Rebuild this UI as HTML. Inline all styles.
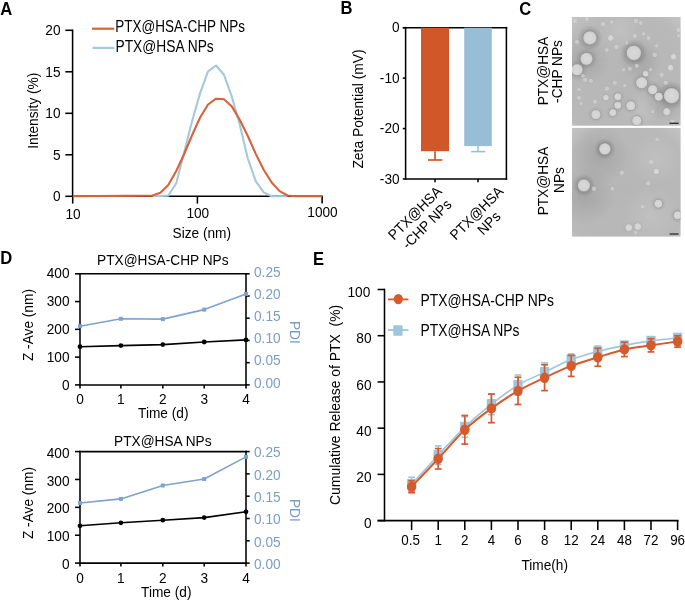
<!DOCTYPE html>
<html><head><meta charset="utf-8"><style>
html,body{margin:0;padding:0;background:#fff;}
svg{display:block;font-family:"Liberation Sans", sans-serif;filter:blur(0.35px);}
</style></head><body>
<svg width="685" height="602" viewBox="0 0 685 602">
<rect width="685" height="602" fill="#fff"/>
<text x="0.00" y="0.00" font-size="16.6" text-anchor="start" fill="#000" font-weight="bold" transform="translate(0.30,14.60) scale(1,1.09)" >A</text>
<text x="0.00" y="0.00" font-size="16.6" text-anchor="start" fill="#000" font-weight="bold" transform="translate(340.60,13.50) scale(1,1.09)" >B</text>
<text x="0.00" y="0.00" font-size="16.6" text-anchor="start" fill="#000" font-weight="bold" transform="translate(519.30,14.80) scale(1,1.09)" >C</text>
<text x="0.00" y="0.00" font-size="16.6" text-anchor="start" fill="#000" font-weight="bold" transform="translate(0.20,264.40) scale(1,1.09)" >D</text>
<text x="0.00" y="0.00" font-size="16.6" text-anchor="start" fill="#000" font-weight="bold" transform="translate(312.90,264.60) scale(1,1.09)" >E</text>
<line x1="72.60" y1="29.50" x2="72.60" y2="197.10" stroke="#000" stroke-width="1.55" stroke-linecap="butt"/>
<line x1="71.80" y1="196.30" x2="322.80" y2="196.30" stroke="#000" stroke-width="1.55" stroke-linecap="butt"/>
<line x1="65.30" y1="196.30" x2="72.60" y2="196.30" stroke="#000" stroke-width="1.55" stroke-linecap="butt"/>
<text x="0.00" y="0.00" font-size="13.7" text-anchor="end" fill="#000" font-weight="normal" transform="translate(60.50,201.10) scale(1,1.09)" >0</text>
<line x1="65.30" y1="154.80" x2="72.60" y2="154.80" stroke="#000" stroke-width="1.55" stroke-linecap="butt"/>
<text x="0.00" y="0.00" font-size="13.7" text-anchor="end" fill="#000" font-weight="normal" transform="translate(60.50,159.60) scale(1,1.09)" >5</text>
<line x1="65.30" y1="113.30" x2="72.60" y2="113.30" stroke="#000" stroke-width="1.55" stroke-linecap="butt"/>
<text x="0.00" y="0.00" font-size="13.7" text-anchor="end" fill="#000" font-weight="normal" transform="translate(60.50,118.10) scale(1,1.09)" >10</text>
<line x1="65.30" y1="71.80" x2="72.60" y2="71.80" stroke="#000" stroke-width="1.55" stroke-linecap="butt"/>
<text x="0.00" y="0.00" font-size="13.7" text-anchor="end" fill="#000" font-weight="normal" transform="translate(60.50,76.60) scale(1,1.09)" >15</text>
<line x1="65.30" y1="30.30" x2="72.60" y2="30.30" stroke="#000" stroke-width="1.55" stroke-linecap="butt"/>
<text x="0.00" y="0.00" font-size="13.7" text-anchor="end" fill="#000" font-weight="normal" transform="translate(60.50,35.10) scale(1,1.09)" >20</text>
<line x1="72.70" y1="196.30" x2="72.70" y2="203.60" stroke="#000" stroke-width="1.55" stroke-linecap="butt"/>
<text x="0.00" y="0.00" font-size="13.7" text-anchor="middle" fill="#000" font-weight="normal" transform="translate(73.10,219.40) scale(1,1.09)" >10</text>
<line x1="197.40" y1="196.30" x2="197.40" y2="203.60" stroke="#000" stroke-width="1.55" stroke-linecap="butt"/>
<text x="0.00" y="0.00" font-size="13.7" text-anchor="middle" fill="#000" font-weight="normal" transform="translate(197.80,217.70) scale(1,1.09)" >100</text>
<line x1="322.10" y1="196.30" x2="322.10" y2="203.60" stroke="#000" stroke-width="1.55" stroke-linecap="butt"/>
<text x="0.00" y="0.00" font-size="13.7" text-anchor="middle" fill="#000" font-weight="normal" transform="translate(322.50,216.50) scale(1,1.09)" >1000</text>
<text x="0.00" y="0.00" font-size="13.7" text-anchor="middle" fill="#000" font-weight="normal" transform="translate(201.80,237.70) scale(1,1.09)" >Size (nm)</text>
<text x="0.00" y="0.00" font-size="13.7" text-anchor="middle" fill="#000" font-weight="normal" transform="translate(37.9,110.7) rotate(-90) scale(1,1.05)" >Intensity (%)</text>
<polyline points="152.40,196.30 168.30,195.60 176.25,183.20 184.20,152.00 192.15,121.00 200.10,93.10 208.05,71.40 216.00,65.50 223.95,74.70 231.90,96.90 239.85,125.00 247.80,158.50 255.75,181.10 263.70,192.40 271.65,196.30 287.55,196.30" fill="none" stroke="#A6C8DC" stroke-width="2.1" stroke-linejoin="round"/>
<polyline points="72.70,196.30 152.40,195.60 160.35,192.80 168.30,184.90 176.25,171.00 184.20,154.00 192.15,135.00 200.10,117.50 208.05,104.50 216.00,98.70 223.95,99.30 231.90,106.60 239.85,120.00 247.80,136.00 255.75,153.90 263.70,169.80 271.65,182.50 279.60,191.10 287.55,195.50 295.50,196.30 322.10,196.30" fill="none" stroke="#D8623A" stroke-width="2.1" stroke-linejoin="round"/>
<line x1="92.00" y1="28.70" x2="114.20" y2="28.70" stroke="#D8623A" stroke-width="2.2" stroke-linecap="butt"/>
<line x1="92.50" y1="47.90" x2="114.30" y2="47.90" stroke="#A6C8DC" stroke-width="2.2" stroke-linecap="butt"/>
<text x="0.00" y="0.00" font-size="13.5" text-anchor="start" fill="#000" font-weight="normal" transform="translate(115.30,32.20) scale(1,1.16)" >PTX@HSA-CHP NPs</text>
<text x="0.00" y="0.00" font-size="13.8" text-anchor="start" fill="#000" font-weight="normal" transform="translate(115.50,51.70) scale(1,1.14)" >PTX@HSA NPs</text>
<line x1="405.60" y1="26.90" x2="405.60" y2="179.80" stroke="#000" stroke-width="1.55" stroke-linecap="butt"/>
<line x1="402.80" y1="27.70" x2="507.20" y2="27.70" stroke="#000" stroke-width="1.55" stroke-linecap="butt"/>
<line x1="506.40" y1="26.90" x2="506.40" y2="179.80" stroke="#000" stroke-width="1.55" stroke-linecap="butt"/>
<line x1="405.60" y1="179.00" x2="507.20" y2="179.00" stroke="#000" stroke-width="1.55" stroke-linecap="butt"/>
<line x1="402.80" y1="27.70" x2="405.60" y2="27.70" stroke="#000" stroke-width="1.55" stroke-linecap="butt"/>
<text x="0.00" y="0.00" font-size="13.7" text-anchor="end" fill="#000" font-weight="normal" transform="translate(399.60,32.40) scale(1,1.09)" >0</text>
<line x1="402.80" y1="78.13" x2="405.60" y2="78.13" stroke="#000" stroke-width="1.55" stroke-linecap="butt"/>
<text x="0.00" y="0.00" font-size="13.7" text-anchor="end" fill="#000" font-weight="normal" transform="translate(399.60,82.83) scale(1,1.09)" >-10</text>
<line x1="402.80" y1="128.56" x2="405.60" y2="128.56" stroke="#000" stroke-width="1.55" stroke-linecap="butt"/>
<text x="0.00" y="0.00" font-size="13.7" text-anchor="end" fill="#000" font-weight="normal" transform="translate(399.60,133.26) scale(1,1.09)" >-20</text>
<line x1="402.80" y1="178.99" x2="405.60" y2="178.99" stroke="#000" stroke-width="1.55" stroke-linecap="butt"/>
<text x="0.00" y="0.00" font-size="13.7" text-anchor="end" fill="#000" font-weight="normal" transform="translate(399.60,183.69) scale(1,1.09)" >-30</text>
<rect x="421" y="27.7" width="28" height="123.50" fill="#D15628"/>
<rect x="464.2" y="27.7" width="27.6" height="118.40" fill="#97BED5"/>
<line x1="435.00" y1="151.20" x2="435.00" y2="160.00" stroke="#D15628" stroke-width="1.7" stroke-linecap="butt"/>
<line x1="428.00" y1="160.00" x2="442.30" y2="160.00" stroke="#D15628" stroke-width="1.7" stroke-linecap="butt"/>
<line x1="478.00" y1="146.10" x2="478.00" y2="151.60" stroke="#97BED5" stroke-width="1.5" stroke-linecap="butt"/>
<line x1="471.20" y1="151.60" x2="485.40" y2="151.60" stroke="#97BED5" stroke-width="1.5" stroke-linecap="butt"/>
<line x1="435.00" y1="179.00" x2="435.00" y2="182.20" stroke="#000" stroke-width="1.55" stroke-linecap="butt"/>
<line x1="478.00" y1="179.00" x2="478.00" y2="182.20" stroke="#000" stroke-width="1.55" stroke-linecap="butt"/>
<text x="0.00" y="0.00" font-size="13.85" text-anchor="middle" fill="#000" font-weight="normal" transform="translate(363.3,109) rotate(-90) scale(1,1.05)" >Zeta Potential (mV)</text>
<text x="0.00" y="0.00" font-size="13.7" text-anchor="end" fill="#000" font-weight="normal" transform="translate(442.6,192.3) rotate(-45) scale(1,1.05)" >PTX@HSA</text>
<text x="0.00" y="0.00" font-size="13.7" text-anchor="end" fill="#000" font-weight="normal" transform="translate(452.5,205.5) rotate(-45) scale(1,1.05)" >-CHP NPs</text>
<text x="0.00" y="0.00" font-size="13.7" text-anchor="end" fill="#000" font-weight="normal" transform="translate(504.3,192.3) rotate(-45) scale(1,1.05)" >PTX@HSA</text>
<text x="0.00" y="0.00" font-size="13.7" text-anchor="end" fill="#000" font-weight="normal" transform="translate(501.5,217.5) rotate(-45) scale(1,1.05)" >NPs</text>
<text x="0.00" y="0.00" font-size="13.7" text-anchor="middle" fill="#000" font-weight="normal" transform="translate(547.6,71) rotate(-90) scale(1,1.05)" >PTX@HSA</text>
<text x="0.00" y="0.00" font-size="13.7" text-anchor="middle" fill="#000" font-weight="normal" transform="translate(561.5,71.5) rotate(-90) scale(1,1.05)" >-CHP NPs</text>
<text x="0.00" y="0.00" font-size="13.7" text-anchor="middle" fill="#000" font-weight="normal" transform="translate(547.8,181) rotate(-90) scale(1,1.05)" >PTX@HSA</text>
<text x="0.00" y="0.00" font-size="13.7" text-anchor="middle" fill="#000" font-weight="normal" transform="translate(564,180) rotate(-90) scale(1,1.05)" >NPs</text>
<defs><radialGradient id="halo"><stop offset="0.5" stop-color="#000" stop-opacity="0.4"/><stop offset="0.65" stop-color="#000" stop-opacity="0.22"/><stop offset="1" stop-color="#000" stop-opacity="0"/></radialGradient><radialGradient id="p"><stop offset="0" stop-color="#d9d9d9"/><stop offset="0.75" stop-color="#d3d3d3"/><stop offset="0.92" stop-color="#c9c9c9"/><stop offset="1" stop-color="#b5b5b5"/></radialGradient><radialGradient id="bg1" cx="0.5" cy="0.55" r="0.75"><stop offset="0" stop-color="#b6b6b6"/><stop offset="0.8" stop-color="#b9b9b9"/><stop offset="1" stop-color="#c4c4c4"/></radialGradient><radialGradient id="blot"><stop offset="0" stop-color="#000" stop-opacity="0.10"/><stop offset="1" stop-color="#000" stop-opacity="0"/></radialGradient><radialGradient id="lite"><stop offset="0" stop-color="#fff" stop-opacity="0.12"/><stop offset="1" stop-color="#fff" stop-opacity="0"/></radialGradient><filter id="soft" x="-5%" y="-5%" width="110%" height="110%"><feGaussianBlur stdDeviation="0.55"/></filter><clipPath id="c1"><rect x="572" y="17" width="108.6" height="108.7"/></clipPath><clipPath id="c2"><rect x="572" y="127.9" width="108.6" height="108.7"/></clipPath></defs>
<rect x="572" y="17" width="108.6" height="108.7" fill="url(#bg1)"/>
<rect x="572" y="127.9" width="108.6" height="108.7" fill="url(#bg1)"/>
<g clip-path="url(#c1)"><g filter="url(#soft)">
<circle cx="585" cy="60" r="25" fill="url(#blot)"/>
<circle cx="640" cy="60" r="22" fill="url(#blot)"/>
<circle cx="665" cy="100" r="22" fill="url(#blot)"/>
<circle cx="640" cy="110" r="20" fill="url(#lite)"/>
<circle cx="620" cy="30" r="20" fill="url(#lite)"/>
<circle cx="589.9" cy="37.9" r="12.60" fill="url(#halo)" opacity="0.50"/>
<circle cx="633.8" cy="52.9" r="13.68" fill="url(#halo)" opacity="0.50"/>
<circle cx="586.5" cy="58.8" r="11.52" fill="url(#halo)" opacity="0.30"/>
<circle cx="577" cy="69.8" r="10.80" fill="url(#halo)" opacity="0.30"/>
<circle cx="641.7" cy="82.8" r="10.80" fill="url(#halo)" opacity="0.25"/>
<circle cx="652.7" cy="89.7" r="9.00" fill="url(#halo)" opacity="0.25"/>
<circle cx="658.7" cy="96.7" r="7.92" fill="url(#halo)" opacity="0.15"/>
<circle cx="671.6" cy="95.7" r="14.40" fill="url(#halo)" opacity="0.50"/>
<circle cx="617.8" cy="96.7" r="7.20" fill="url(#halo)" opacity="0.15"/>
<circle cx="617.8" cy="105.3" r="7.20" fill="url(#halo)" opacity="0.15"/>
<circle cx="630.8" cy="105.7" r="9.00" fill="url(#halo)" opacity="0.20"/>
<circle cx="612.8" cy="112.7" r="7.20" fill="url(#halo)" opacity="0.15"/>
<circle cx="595.9" cy="114.6" r="9.00" fill="url(#halo)" opacity="0.15"/>
<circle cx="636.8" cy="120.6" r="9.00" fill="url(#halo)" opacity="0.15"/>
<circle cx="666.7" cy="111.7" r="6.48" fill="url(#halo)" opacity="0.10"/>
<circle cx="605.9" cy="97.7" r="5.40" fill="url(#halo)" opacity="0.10"/>
<circle cx="645.7" cy="73.8" r="5.40" fill="url(#halo)" opacity="0.10"/>
<circle cx="589.9" cy="37.9" r="7" fill="url(#p)" stroke="#888" stroke-opacity="0.45" stroke-width="0.8"/>
<circle cx="633.8" cy="52.9" r="7.6" fill="url(#p)" stroke="#888" stroke-opacity="0.45" stroke-width="0.8"/>
<circle cx="586.5" cy="58.8" r="6.4" fill="url(#p)" stroke="#888" stroke-opacity="0.45" stroke-width="0.8"/>
<circle cx="577" cy="69.8" r="6" fill="url(#p)" stroke="#888" stroke-opacity="0.45" stroke-width="0.8"/>
<circle cx="641.7" cy="82.8" r="6" fill="url(#p)" stroke="#888" stroke-opacity="0.45" stroke-width="0.8"/>
<circle cx="652.7" cy="89.7" r="5" fill="url(#p)" stroke="#888" stroke-opacity="0.45" stroke-width="0.8"/>
<circle cx="658.7" cy="96.7" r="4.4" fill="url(#p)" stroke="#888" stroke-opacity="0.45" stroke-width="0.8"/>
<circle cx="671.6" cy="95.7" r="8" fill="url(#p)" stroke="#888" stroke-opacity="0.45" stroke-width="0.8"/>
<circle cx="617.8" cy="96.7" r="4" fill="url(#p)" stroke="#888" stroke-opacity="0.45" stroke-width="0.8"/>
<circle cx="617.8" cy="105.3" r="4" fill="url(#p)" stroke="#888" stroke-opacity="0.45" stroke-width="0.8"/>
<circle cx="630.8" cy="105.7" r="5" fill="url(#p)" stroke="#888" stroke-opacity="0.45" stroke-width="0.8"/>
<circle cx="612.8" cy="112.7" r="4" fill="url(#p)" stroke="#888" stroke-opacity="0.45" stroke-width="0.8"/>
<circle cx="595.9" cy="114.6" r="5" fill="url(#p)" stroke="#888" stroke-opacity="0.45" stroke-width="0.8"/>
<circle cx="636.8" cy="120.6" r="5" fill="url(#p)" stroke="#888" stroke-opacity="0.45" stroke-width="0.8"/>
<circle cx="666.7" cy="111.7" r="3.6" fill="url(#p)"/>
<circle cx="605.9" cy="97.7" r="3" fill="url(#p)"/>
<circle cx="645.7" cy="73.8" r="3" fill="url(#p)"/>
<circle cx="602.9" cy="24" r="2.4" fill="url(#p)" opacity="0.65"/>
<circle cx="635.8" cy="21" r="2.4" fill="url(#p)" opacity="0.65"/>
<circle cx="575" cy="21" r="2.4" fill="url(#p)" opacity="0.65"/>
<circle cx="610.8" cy="37.9" r="3" fill="url(#p)"/>
<circle cx="616.4" cy="46.9" r="2.4" fill="url(#p)" opacity="0.65"/>
<circle cx="606.9" cy="49.9" r="2" fill="url(#p)" opacity="0.65"/>
<circle cx="654.7" cy="54.8" r="2.4" fill="url(#p)" opacity="0.65"/>
<circle cx="673.6" cy="56.8" r="3" fill="url(#p)"/>
<circle cx="670.6" cy="67.8" r="3" fill="url(#p)"/>
<circle cx="661.7" cy="74.8" r="2.4" fill="url(#p)" opacity="0.65"/>
<circle cx="665.7" cy="82.8" r="2.4" fill="url(#p)" opacity="0.65"/>
<circle cx="678.6" cy="29.9" r="2.4" fill="url(#p)" opacity="0.65"/>
<circle cx="585" cy="79.8" r="2.4" fill="url(#p)" opacity="0.65"/>
<circle cx="606.9" cy="88.7" r="2.4" fill="url(#p)" opacity="0.65"/>
<circle cx="583" cy="75.8" r="2" fill="url(#p)" opacity="0.65"/>
<circle cx="586.9" cy="19.0" r="2.2" fill="url(#p)" opacity="0.65"/>
<circle cx="611.8" cy="22.0" r="1.8" fill="url(#p)" opacity="0.65"/>
<circle cx="640.7" cy="23.0" r="2.2" fill="url(#p)" opacity="0.65"/>
<circle cx="678.6" cy="35.9" r="1.8" fill="url(#p)" opacity="0.65"/>
<circle cx="577.0" cy="41.9" r="2.2" fill="url(#p)" opacity="0.65"/>
<circle cx="626.8" cy="42.9" r="1.8" fill="url(#p)" opacity="0.65"/>
<circle cx="634.8" cy="35.9" r="2.2" fill="url(#p)" opacity="0.65"/>
<circle cx="643.7" cy="33.9" r="1.8" fill="url(#p)" opacity="0.65"/>
<circle cx="648.7" cy="37.9" r="2.2" fill="url(#p)" opacity="0.65"/>
<circle cx="656.7" cy="45.9" r="1.8" fill="url(#p)" opacity="0.65"/>
<circle cx="590.9" cy="80.8" r="2.2" fill="url(#p)" opacity="0.65"/>
<circle cx="579.0" cy="89.7" r="1.8" fill="url(#p)" opacity="0.65"/>
<circle cx="579.0" cy="97.7" r="2.2" fill="url(#p)" opacity="0.65"/>
<circle cx="623.8" cy="69.8" r="1.8" fill="url(#p)" opacity="0.65"/>
<circle cx="629.8" cy="68.8" r="2.2" fill="url(#p)" opacity="0.65"/>
<circle cx="624.8" cy="85.7" r="1.8" fill="url(#p)" opacity="0.65"/>
<circle cx="636.8" cy="65.8" r="2.2" fill="url(#p)" opacity="0.65"/>
<circle cx="650.7" cy="69.8" r="1.8" fill="url(#p)" opacity="0.65"/>
<circle cx="672.6" cy="121.6" r="2.2" fill="url(#p)" opacity="0.65"/>
<circle cx="652.7" cy="111.7" r="1.8" fill="url(#p)" opacity="0.65"/>
<circle cx="614.8" cy="82.8" r="2.2" fill="url(#p)" opacity="0.65"/>
<circle cx="580.9" cy="103.7" r="1.8" fill="url(#p)" opacity="0.65"/>
<circle cx="594.9" cy="101.7" r="2.2" fill="url(#p)" opacity="0.65"/>
</g></g>
<g clip-path="url(#c2)"><g filter="url(#soft)">
<circle cx="600" cy="155" r="30" fill="url(#blot)"/>
<circle cx="585" cy="195" r="30" fill="url(#blot)"/>
<circle cx="650" cy="215" r="30" fill="url(#lite)"/>
<circle cx="655" cy="160" r="25" fill="url(#lite)"/>
<circle cx="604.9" cy="148.9" r="10.80" fill="url(#halo)" opacity="0.50"/>
<circle cx="583.9" cy="185.4" r="11.52" fill="url(#halo)" opacity="0.50"/>
<circle cx="658.3" cy="203.7" r="7.92" fill="url(#halo)" opacity="0.25"/>
<circle cx="677.6" cy="215.3" r="7.92" fill="url(#halo)" opacity="0.25"/>
<circle cx="628.8" cy="227.6" r="6.48" fill="url(#halo)" opacity="0.10"/>
<circle cx="637.8" cy="226.6" r="6.48" fill="url(#halo)" opacity="0.10"/>
<circle cx="651.1" cy="161.9" r="5.04" fill="url(#halo)" opacity="0.05"/>
<circle cx="656.3" cy="171.4" r="5.40" fill="url(#halo)" opacity="0.05"/>
<circle cx="604.9" cy="148.9" r="6" fill="url(#p)" stroke="#888" stroke-opacity="0.45" stroke-width="0.8"/>
<circle cx="583.9" cy="185.4" r="6.4" fill="url(#p)" stroke="#888" stroke-opacity="0.45" stroke-width="0.8"/>
<circle cx="658.3" cy="203.7" r="4.4" fill="url(#p)" stroke="#888" stroke-opacity="0.45" stroke-width="0.8"/>
<circle cx="677.6" cy="215.3" r="4.4" fill="url(#p)" stroke="#888" stroke-opacity="0.45" stroke-width="0.8"/>
<circle cx="628.8" cy="227.6" r="3.6" fill="url(#p)"/>
<circle cx="637.8" cy="226.6" r="3.6" fill="url(#p)"/>
<circle cx="651.1" cy="161.9" r="2.8" fill="url(#p)" opacity="0.65"/>
<circle cx="656.3" cy="171.4" r="3" fill="url(#p)"/>
<circle cx="648.3" cy="183.4" r="2.4" fill="url(#p)" opacity="0.65"/>
<circle cx="621.8" cy="172.8" r="2.4" fill="url(#p)" opacity="0.65"/>
<circle cx="593.9" cy="188.8" r="2.4" fill="url(#p)" opacity="0.65"/>
<circle cx="612.4" cy="188.8" r="2" fill="url(#p)" opacity="0.65"/>
<circle cx="657.1" cy="139.5" r="2" fill="url(#p)" opacity="0.65"/>
<circle cx="642.7" cy="206.7" r="2" fill="url(#p)" opacity="0.65"/>
<circle cx="635.8" cy="232.6" r="2" fill="url(#p)" opacity="0.65"/>
</g></g>
<line x1="669.60" y1="123.30" x2="678.60" y2="123.30" stroke="#222" stroke-width="1.3" stroke-linecap="butt"/>
<line x1="669.60" y1="234.00" x2="678.60" y2="234.00" stroke="#222" stroke-width="1.2" stroke-linecap="butt"/>
<line x1="80.00" y1="273.00" x2="80.00" y2="385.70" stroke="#000" stroke-width="1.55" stroke-linecap="butt"/>
<line x1="246.00" y1="273.00" x2="246.00" y2="385.70" stroke="#000" stroke-width="1.55" stroke-linecap="butt"/>
<line x1="79.20" y1="273.80" x2="246.80" y2="273.80" stroke="#000" stroke-width="1.55" stroke-linecap="butt"/>
<line x1="79.20" y1="384.90" x2="246.80" y2="384.90" stroke="#000" stroke-width="1.55" stroke-linecap="butt"/>
<line x1="75.00" y1="384.90" x2="80.00" y2="384.90" stroke="#000" stroke-width="1.55" stroke-linecap="butt"/>
<text x="0.00" y="0.00" font-size="13.7" text-anchor="end" fill="#000" font-weight="normal" transform="translate(69.50,389.50) scale(1,1.09)" >0</text>
<line x1="75.00" y1="357.12" x2="80.00" y2="357.12" stroke="#000" stroke-width="1.55" stroke-linecap="butt"/>
<text x="0.00" y="0.00" font-size="13.7" text-anchor="end" fill="#000" font-weight="normal" transform="translate(69.50,361.73) scale(1,1.09)" >100</text>
<line x1="75.00" y1="329.35" x2="80.00" y2="329.35" stroke="#000" stroke-width="1.55" stroke-linecap="butt"/>
<text x="0.00" y="0.00" font-size="13.7" text-anchor="end" fill="#000" font-weight="normal" transform="translate(69.50,333.95) scale(1,1.09)" >200</text>
<line x1="75.00" y1="301.57" x2="80.00" y2="301.57" stroke="#000" stroke-width="1.55" stroke-linecap="butt"/>
<text x="0.00" y="0.00" font-size="13.7" text-anchor="end" fill="#000" font-weight="normal" transform="translate(69.50,306.18) scale(1,1.09)" >300</text>
<line x1="75.00" y1="273.80" x2="80.00" y2="273.80" stroke="#000" stroke-width="1.55" stroke-linecap="butt"/>
<text x="0.00" y="0.00" font-size="13.7" text-anchor="end" fill="#000" font-weight="normal" transform="translate(69.50,278.40) scale(1,1.09)" >400</text>
<line x1="246.00" y1="384.90" x2="249.70" y2="384.90" stroke="#000" stroke-width="1.55" stroke-linecap="butt"/>
<text x="0.00" y="0.00" font-size="13.7" text-anchor="start" fill="#7C9CC8" font-weight="normal" transform="translate(254.00,387.70) scale(1,1.09)" >0.00</text>
<line x1="246.00" y1="362.68" x2="249.70" y2="362.68" stroke="#000" stroke-width="1.55" stroke-linecap="butt"/>
<text x="0.00" y="0.00" font-size="13.7" text-anchor="start" fill="#7C9CC8" font-weight="normal" transform="translate(254.00,365.48) scale(1,1.09)" >0.05</text>
<line x1="246.00" y1="340.46" x2="249.70" y2="340.46" stroke="#000" stroke-width="1.55" stroke-linecap="butt"/>
<text x="0.00" y="0.00" font-size="13.7" text-anchor="start" fill="#7C9CC8" font-weight="normal" transform="translate(254.00,343.26) scale(1,1.09)" >0.10</text>
<line x1="246.00" y1="318.24" x2="249.70" y2="318.24" stroke="#000" stroke-width="1.55" stroke-linecap="butt"/>
<text x="0.00" y="0.00" font-size="13.7" text-anchor="start" fill="#7C9CC8" font-weight="normal" transform="translate(254.00,321.04) scale(1,1.09)" >0.15</text>
<line x1="246.00" y1="296.02" x2="249.70" y2="296.02" stroke="#000" stroke-width="1.55" stroke-linecap="butt"/>
<text x="0.00" y="0.00" font-size="13.7" text-anchor="start" fill="#7C9CC8" font-weight="normal" transform="translate(254.00,298.82) scale(1,1.09)" >0.20</text>
<line x1="246.00" y1="273.80" x2="249.70" y2="273.80" stroke="#000" stroke-width="1.55" stroke-linecap="butt"/>
<text x="0.00" y="0.00" font-size="13.7" text-anchor="start" fill="#7C9CC8" font-weight="normal" transform="translate(254.00,276.60) scale(1,1.09)" >0.25</text>
<line x1="80.00" y1="384.90" x2="80.00" y2="388.40" stroke="#000" stroke-width="1.55" stroke-linecap="butt"/>
<text x="0.00" y="0.00" font-size="13.7" text-anchor="middle" fill="#000" font-weight="normal" transform="translate(80.00,403.50) scale(1,1.09)" >0</text>
<line x1="120.90" y1="384.90" x2="120.90" y2="388.40" stroke="#000" stroke-width="1.55" stroke-linecap="butt"/>
<text x="0.00" y="0.00" font-size="13.7" text-anchor="middle" fill="#000" font-weight="normal" transform="translate(120.90,403.50) scale(1,1.09)" >1</text>
<line x1="162.80" y1="384.90" x2="162.80" y2="388.40" stroke="#000" stroke-width="1.55" stroke-linecap="butt"/>
<text x="0.00" y="0.00" font-size="13.7" text-anchor="middle" fill="#000" font-weight="normal" transform="translate(162.80,403.50) scale(1,1.09)" >2</text>
<line x1="204.20" y1="384.90" x2="204.20" y2="388.40" stroke="#000" stroke-width="1.55" stroke-linecap="butt"/>
<text x="0.00" y="0.00" font-size="13.7" text-anchor="middle" fill="#000" font-weight="normal" transform="translate(204.20,403.50) scale(1,1.09)" >3</text>
<line x1="246.00" y1="384.90" x2="246.00" y2="388.40" stroke="#000" stroke-width="1.55" stroke-linecap="butt"/>
<text x="0.00" y="0.00" font-size="13.7" text-anchor="middle" fill="#000" font-weight="normal" transform="translate(246.00,403.50) scale(1,1.09)" >4</text>
<text x="0.00" y="0.00" font-size="13.7" text-anchor="middle" fill="#000" font-weight="normal" transform="translate(163.30,417.60) scale(1,1.09)" >Time (d)</text>
<text x="0.00" y="0.00" font-size="13.7" text-anchor="middle" fill="#000" font-weight="normal" transform="translate(162.80,265.30) scale(1,1.09)" >PTX@HSA-CHP NPs</text>
<text x="0.00" y="0.00" font-size="13.7" text-anchor="middle" fill="#000" font-weight="normal" transform="translate(32.8,325.05) rotate(-90) scale(1,1.05)" >Z -Ave (nm)</text>
<text x="0.00" y="0.00" font-size="13.7" text-anchor="middle" fill="#7C9CC8" font-weight="normal" transform="translate(290,332.35) rotate(90) scale(1,1.05)" >PDI</text>
<polyline points="80.00,326.20 120.90,318.80 162.80,319.10 204.20,309.60 246.00,293.90" fill="none" stroke="#7FA2CF" stroke-width="1.6" stroke-linejoin="round"/>
<rect x="78.00" y="324.20" width="4.0" height="4.0" fill="#7FA2CF"/>
<rect x="118.90" y="316.80" width="4.0" height="4.0" fill="#7FA2CF"/>
<rect x="160.80" y="317.10" width="4.0" height="4.0" fill="#7FA2CF"/>
<rect x="202.20" y="307.60" width="4.0" height="4.0" fill="#7FA2CF"/>
<rect x="244.00" y="291.90" width="4.0" height="4.0" fill="#7FA2CF"/>
<polyline points="80.00,346.70 120.90,345.60 162.80,344.60 204.20,342.00 246.00,339.90" fill="none" stroke="#000" stroke-width="1.6" stroke-linejoin="round"/>
<circle cx="80.00" cy="346.70" r="2.4" fill="#000"/>
<circle cx="120.90" cy="345.60" r="2.4" fill="#000"/>
<circle cx="162.80" cy="344.60" r="2.4" fill="#000"/>
<circle cx="204.20" cy="342.00" r="2.4" fill="#000"/>
<circle cx="246.00" cy="339.90" r="2.4" fill="#000"/>
<line x1="80.00" y1="450.80" x2="80.00" y2="563.90" stroke="#000" stroke-width="1.55" stroke-linecap="butt"/>
<line x1="246.00" y1="450.80" x2="246.00" y2="563.90" stroke="#000" stroke-width="1.55" stroke-linecap="butt"/>
<line x1="79.20" y1="451.60" x2="246.80" y2="451.60" stroke="#000" stroke-width="1.55" stroke-linecap="butt"/>
<line x1="79.20" y1="563.10" x2="246.80" y2="563.10" stroke="#000" stroke-width="1.55" stroke-linecap="butt"/>
<line x1="75.00" y1="563.10" x2="80.00" y2="563.10" stroke="#000" stroke-width="1.55" stroke-linecap="butt"/>
<text x="0.00" y="0.00" font-size="13.7" text-anchor="end" fill="#000" font-weight="normal" transform="translate(69.50,569.20) scale(1,1.09)" >0</text>
<line x1="75.00" y1="535.23" x2="80.00" y2="535.23" stroke="#000" stroke-width="1.55" stroke-linecap="butt"/>
<text x="0.00" y="0.00" font-size="13.7" text-anchor="end" fill="#000" font-weight="normal" transform="translate(69.50,541.33) scale(1,1.09)" >100</text>
<line x1="75.00" y1="507.35" x2="80.00" y2="507.35" stroke="#000" stroke-width="1.55" stroke-linecap="butt"/>
<text x="0.00" y="0.00" font-size="13.7" text-anchor="end" fill="#000" font-weight="normal" transform="translate(69.50,513.45) scale(1,1.09)" >200</text>
<line x1="75.00" y1="479.48" x2="80.00" y2="479.48" stroke="#000" stroke-width="1.55" stroke-linecap="butt"/>
<text x="0.00" y="0.00" font-size="13.7" text-anchor="end" fill="#000" font-weight="normal" transform="translate(69.50,485.58) scale(1,1.09)" >300</text>
<line x1="75.00" y1="451.60" x2="80.00" y2="451.60" stroke="#000" stroke-width="1.55" stroke-linecap="butt"/>
<text x="0.00" y="0.00" font-size="13.7" text-anchor="end" fill="#000" font-weight="normal" transform="translate(69.50,457.70) scale(1,1.09)" >400</text>
<line x1="246.00" y1="563.10" x2="249.70" y2="563.10" stroke="#000" stroke-width="1.55" stroke-linecap="butt"/>
<text x="0.00" y="0.00" font-size="13.7" text-anchor="start" fill="#7C9CC8" font-weight="normal" transform="translate(254.00,568.90) scale(1,1.09)" >0.00</text>
<line x1="246.00" y1="540.80" x2="249.70" y2="540.80" stroke="#000" stroke-width="1.55" stroke-linecap="butt"/>
<text x="0.00" y="0.00" font-size="13.7" text-anchor="start" fill="#7C9CC8" font-weight="normal" transform="translate(254.00,546.60) scale(1,1.09)" >0.05</text>
<line x1="246.00" y1="518.50" x2="249.70" y2="518.50" stroke="#000" stroke-width="1.55" stroke-linecap="butt"/>
<text x="0.00" y="0.00" font-size="13.7" text-anchor="start" fill="#7C9CC8" font-weight="normal" transform="translate(254.00,524.30) scale(1,1.09)" >0.10</text>
<line x1="246.00" y1="496.20" x2="249.70" y2="496.20" stroke="#000" stroke-width="1.55" stroke-linecap="butt"/>
<text x="0.00" y="0.00" font-size="13.7" text-anchor="start" fill="#7C9CC8" font-weight="normal" transform="translate(254.00,502.00) scale(1,1.09)" >0.15</text>
<line x1="246.00" y1="473.90" x2="249.70" y2="473.90" stroke="#000" stroke-width="1.55" stroke-linecap="butt"/>
<text x="0.00" y="0.00" font-size="13.7" text-anchor="start" fill="#7C9CC8" font-weight="normal" transform="translate(254.00,479.70) scale(1,1.09)" >0.20</text>
<line x1="246.00" y1="451.60" x2="249.70" y2="451.60" stroke="#000" stroke-width="1.55" stroke-linecap="butt"/>
<text x="0.00" y="0.00" font-size="13.7" text-anchor="start" fill="#7C9CC8" font-weight="normal" transform="translate(254.00,457.40) scale(1,1.09)" >0.25</text>
<line x1="80.00" y1="563.10" x2="80.00" y2="566.60" stroke="#000" stroke-width="1.55" stroke-linecap="butt"/>
<text x="0.00" y="0.00" font-size="13.7" text-anchor="middle" fill="#000" font-weight="normal" transform="translate(80.00,582.70) scale(1,1.09)" >0</text>
<line x1="120.90" y1="563.10" x2="120.90" y2="566.60" stroke="#000" stroke-width="1.55" stroke-linecap="butt"/>
<text x="0.00" y="0.00" font-size="13.7" text-anchor="middle" fill="#000" font-weight="normal" transform="translate(120.90,582.70) scale(1,1.09)" >1</text>
<line x1="162.80" y1="563.10" x2="162.80" y2="566.60" stroke="#000" stroke-width="1.55" stroke-linecap="butt"/>
<text x="0.00" y="0.00" font-size="13.7" text-anchor="middle" fill="#000" font-weight="normal" transform="translate(162.80,582.70) scale(1,1.09)" >2</text>
<line x1="204.20" y1="563.10" x2="204.20" y2="566.60" stroke="#000" stroke-width="1.55" stroke-linecap="butt"/>
<text x="0.00" y="0.00" font-size="13.7" text-anchor="middle" fill="#000" font-weight="normal" transform="translate(204.20,582.70) scale(1,1.09)" >3</text>
<line x1="246.00" y1="563.10" x2="246.00" y2="566.60" stroke="#000" stroke-width="1.55" stroke-linecap="butt"/>
<text x="0.00" y="0.00" font-size="13.7" text-anchor="middle" fill="#000" font-weight="normal" transform="translate(246.00,582.70) scale(1,1.09)" >4</text>
<text x="0.00" y="0.00" font-size="13.7" text-anchor="middle" fill="#000" font-weight="normal" transform="translate(166.30,597.20) scale(1,1.09)" >Time (d)</text>
<text x="0.00" y="0.00" font-size="13.7" text-anchor="middle" fill="#000" font-weight="normal" transform="translate(162.80,446.10) scale(1,1.09)" >PTX@HSA NPs</text>
<text x="0.00" y="0.00" font-size="13.7" text-anchor="middle" fill="#000" font-weight="normal" transform="translate(32.8,503.05) rotate(-90) scale(1,1.05)" >Z -Ave (nm)</text>
<text x="0.00" y="0.00" font-size="13.7" text-anchor="middle" fill="#7C9CC8" font-weight="normal" transform="translate(290,510.35) rotate(90) scale(1,1.05)" >PDI</text>
<polyline points="80.00,503.00 120.90,498.90 162.80,485.50 204.20,479.00 246.00,456.90" fill="none" stroke="#7FA2CF" stroke-width="1.6" stroke-linejoin="round"/>
<rect x="78.00" y="501.00" width="4.0" height="4.0" fill="#7FA2CF"/>
<rect x="118.90" y="496.90" width="4.0" height="4.0" fill="#7FA2CF"/>
<rect x="160.80" y="483.50" width="4.0" height="4.0" fill="#7FA2CF"/>
<rect x="202.20" y="477.00" width="4.0" height="4.0" fill="#7FA2CF"/>
<rect x="244.00" y="454.90" width="4.0" height="4.0" fill="#7FA2CF"/>
<polyline points="80.00,525.80 120.90,522.80 162.80,520.20 204.20,517.60 246.00,511.80" fill="none" stroke="#000" stroke-width="1.6" stroke-linejoin="round"/>
<circle cx="80.00" cy="525.80" r="2.4" fill="#000"/>
<circle cx="120.90" cy="522.80" r="2.4" fill="#000"/>
<circle cx="162.80" cy="520.20" r="2.4" fill="#000"/>
<circle cx="204.20" cy="517.60" r="2.4" fill="#000"/>
<circle cx="246.00" cy="511.80" r="2.4" fill="#000"/>
<line x1="384.50" y1="288.70" x2="384.50" y2="521.40" stroke="#000" stroke-width="1.55" stroke-linecap="butt"/>
<line x1="377.60" y1="520.60" x2="678.60" y2="520.60" stroke="#000" stroke-width="1.55" stroke-linecap="butt"/>
<line x1="377.60" y1="520.60" x2="384.50" y2="520.60" stroke="#000" stroke-width="1.55" stroke-linecap="butt"/>
<text x="0.00" y="0.00" font-size="13.7" text-anchor="end" fill="#000" font-weight="normal" transform="translate(371.50,528.20) scale(1,1.09)" >0</text>
<line x1="377.60" y1="474.38" x2="384.50" y2="474.38" stroke="#000" stroke-width="1.55" stroke-linecap="butt"/>
<text x="0.00" y="0.00" font-size="13.7" text-anchor="end" fill="#000" font-weight="normal" transform="translate(371.50,481.98) scale(1,1.09)" >20</text>
<line x1="377.60" y1="428.16" x2="384.50" y2="428.16" stroke="#000" stroke-width="1.55" stroke-linecap="butt"/>
<text x="0.00" y="0.00" font-size="13.7" text-anchor="end" fill="#000" font-weight="normal" transform="translate(371.50,435.76) scale(1,1.09)" >40</text>
<line x1="377.60" y1="381.94" x2="384.50" y2="381.94" stroke="#000" stroke-width="1.55" stroke-linecap="butt"/>
<text x="0.00" y="0.00" font-size="13.7" text-anchor="end" fill="#000" font-weight="normal" transform="translate(371.50,389.54) scale(1,1.09)" >60</text>
<line x1="377.60" y1="335.72" x2="384.50" y2="335.72" stroke="#000" stroke-width="1.55" stroke-linecap="butt"/>
<text x="0.00" y="0.00" font-size="13.7" text-anchor="end" fill="#000" font-weight="normal" transform="translate(371.50,343.32) scale(1,1.09)" >80</text>
<line x1="377.60" y1="289.50" x2="384.50" y2="289.50" stroke="#000" stroke-width="1.55" stroke-linecap="butt"/>
<text x="0.00" y="0.00" font-size="13.7" text-anchor="end" fill="#000" font-weight="normal" transform="translate(370.30,297.10) scale(1,1.09)" >100</text>
<line x1="411.60" y1="520.60" x2="411.60" y2="530.00" stroke="#000" stroke-width="1.55" stroke-linecap="butt"/>
<text x="0.00" y="0.00" font-size="13.4" text-anchor="middle" fill="#000" font-weight="normal" transform="translate(410.60,545.10) scale(1,1.04)" >0.5</text>
<line x1="438.20" y1="520.60" x2="438.20" y2="530.00" stroke="#000" stroke-width="1.55" stroke-linecap="butt"/>
<text x="0.00" y="0.00" font-size="13.4" text-anchor="middle" fill="#000" font-weight="normal" transform="translate(438.20,545.10) scale(1,1.04)" >1</text>
<line x1="464.80" y1="520.60" x2="464.80" y2="530.00" stroke="#000" stroke-width="1.55" stroke-linecap="butt"/>
<text x="0.00" y="0.00" font-size="13.4" text-anchor="middle" fill="#000" font-weight="normal" transform="translate(464.80,545.10) scale(1,1.04)" >2</text>
<line x1="491.40" y1="520.60" x2="491.40" y2="530.00" stroke="#000" stroke-width="1.55" stroke-linecap="butt"/>
<text x="0.00" y="0.00" font-size="13.4" text-anchor="middle" fill="#000" font-weight="normal" transform="translate(491.40,545.10) scale(1,1.04)" >4</text>
<line x1="518.00" y1="520.60" x2="518.00" y2="530.00" stroke="#000" stroke-width="1.55" stroke-linecap="butt"/>
<text x="0.00" y="0.00" font-size="13.4" text-anchor="middle" fill="#000" font-weight="normal" transform="translate(518.00,545.10) scale(1,1.04)" >6</text>
<line x1="544.60" y1="520.60" x2="544.60" y2="530.00" stroke="#000" stroke-width="1.55" stroke-linecap="butt"/>
<text x="0.00" y="0.00" font-size="13.4" text-anchor="middle" fill="#000" font-weight="normal" transform="translate(544.60,545.10) scale(1,1.04)" >8</text>
<line x1="571.20" y1="520.60" x2="571.20" y2="530.00" stroke="#000" stroke-width="1.55" stroke-linecap="butt"/>
<text x="0.00" y="0.00" font-size="13.4" text-anchor="middle" fill="#000" font-weight="normal" transform="translate(571.20,545.10) scale(1,1.04)" >12</text>
<line x1="597.80" y1="520.60" x2="597.80" y2="530.00" stroke="#000" stroke-width="1.55" stroke-linecap="butt"/>
<text x="0.00" y="0.00" font-size="13.4" text-anchor="middle" fill="#000" font-weight="normal" transform="translate(597.80,545.10) scale(1,1.04)" >24</text>
<line x1="624.40" y1="520.60" x2="624.40" y2="530.00" stroke="#000" stroke-width="1.55" stroke-linecap="butt"/>
<text x="0.00" y="0.00" font-size="13.4" text-anchor="middle" fill="#000" font-weight="normal" transform="translate(624.40,545.10) scale(1,1.04)" >48</text>
<line x1="651.00" y1="520.60" x2="651.00" y2="530.00" stroke="#000" stroke-width="1.55" stroke-linecap="butt"/>
<text x="0.00" y="0.00" font-size="13.4" text-anchor="middle" fill="#000" font-weight="normal" transform="translate(651.00,545.10) scale(1,1.04)" >72</text>
<line x1="677.60" y1="520.60" x2="677.60" y2="530.00" stroke="#000" stroke-width="1.55" stroke-linecap="butt"/>
<text x="0.00" y="0.00" font-size="13.4" text-anchor="middle" fill="#000" font-weight="normal" transform="translate(677.60,545.10) scale(1,1.04)" >96</text>
<text x="0.00" y="0.00" font-size="13.7" text-anchor="middle" fill="#000" font-weight="normal" transform="translate(544.70,569.90) scale(1,1.09)" >Time(h)</text>
<text x="0.00" y="0.00" font-size="13.9" text-anchor="middle" fill="#000" font-weight="normal" transform="translate(339.9,404.9) rotate(-90) scale(1,1.05)" xml:space="preserve">Cumulative Release of PTX  (%)</text>
<line x1="411.60" y1="477.30" x2="411.60" y2="491.30" stroke="#9DC5DB" stroke-width="1.6" stroke-linecap="butt"/>
<line x1="408.20" y1="477.30" x2="415.00" y2="477.30" stroke="#9DC5DB" stroke-width="1.6" stroke-linecap="butt"/>
<line x1="408.20" y1="491.30" x2="415.00" y2="491.30" stroke="#9DC5DB" stroke-width="1.6" stroke-linecap="butt"/>
<line x1="438.20" y1="445.90" x2="438.20" y2="464.50" stroke="#9DC5DB" stroke-width="1.6" stroke-linecap="butt"/>
<line x1="434.80" y1="445.90" x2="441.60" y2="445.90" stroke="#9DC5DB" stroke-width="1.6" stroke-linecap="butt"/>
<line x1="434.80" y1="464.50" x2="441.60" y2="464.50" stroke="#9DC5DB" stroke-width="1.6" stroke-linecap="butt"/>
<line x1="464.80" y1="416.70" x2="464.80" y2="437.30" stroke="#9DC5DB" stroke-width="1.6" stroke-linecap="butt"/>
<line x1="461.40" y1="416.70" x2="468.20" y2="416.70" stroke="#9DC5DB" stroke-width="1.6" stroke-linecap="butt"/>
<line x1="461.40" y1="437.30" x2="468.20" y2="437.30" stroke="#9DC5DB" stroke-width="1.6" stroke-linecap="butt"/>
<line x1="491.40" y1="393.90" x2="491.40" y2="414.70" stroke="#9DC5DB" stroke-width="1.6" stroke-linecap="butt"/>
<line x1="488.00" y1="393.90" x2="494.80" y2="393.90" stroke="#9DC5DB" stroke-width="1.6" stroke-linecap="butt"/>
<line x1="488.00" y1="414.70" x2="494.80" y2="414.70" stroke="#9DC5DB" stroke-width="1.6" stroke-linecap="butt"/>
<line x1="518.00" y1="375.00" x2="518.00" y2="395.20" stroke="#9DC5DB" stroke-width="1.6" stroke-linecap="butt"/>
<line x1="514.60" y1="375.00" x2="521.40" y2="375.00" stroke="#9DC5DB" stroke-width="1.6" stroke-linecap="butt"/>
<line x1="514.60" y1="395.20" x2="521.40" y2="395.20" stroke="#9DC5DB" stroke-width="1.6" stroke-linecap="butt"/>
<line x1="544.60" y1="362.90" x2="544.60" y2="381.50" stroke="#9DC5DB" stroke-width="1.6" stroke-linecap="butt"/>
<line x1="541.20" y1="362.90" x2="548.00" y2="362.90" stroke="#9DC5DB" stroke-width="1.6" stroke-linecap="butt"/>
<line x1="541.20" y1="381.50" x2="548.00" y2="381.50" stroke="#9DC5DB" stroke-width="1.6" stroke-linecap="butt"/>
<line x1="571.20" y1="353.90" x2="571.20" y2="365.10" stroke="#9DC5DB" stroke-width="1.6" stroke-linecap="butt"/>
<line x1="567.80" y1="353.90" x2="574.60" y2="353.90" stroke="#9DC5DB" stroke-width="1.6" stroke-linecap="butt"/>
<line x1="567.80" y1="365.10" x2="574.60" y2="365.10" stroke="#9DC5DB" stroke-width="1.6" stroke-linecap="butt"/>
<line x1="597.80" y1="346.00" x2="597.80" y2="357.00" stroke="#9DC5DB" stroke-width="1.6" stroke-linecap="butt"/>
<line x1="594.40" y1="346.00" x2="601.20" y2="346.00" stroke="#9DC5DB" stroke-width="1.6" stroke-linecap="butt"/>
<line x1="594.40" y1="357.00" x2="601.20" y2="357.00" stroke="#9DC5DB" stroke-width="1.6" stroke-linecap="butt"/>
<line x1="624.40" y1="342.20" x2="624.40" y2="348.60" stroke="#9DC5DB" stroke-width="1.6" stroke-linecap="butt"/>
<line x1="621.00" y1="342.20" x2="627.80" y2="342.20" stroke="#9DC5DB" stroke-width="1.6" stroke-linecap="butt"/>
<line x1="621.00" y1="348.60" x2="627.80" y2="348.60" stroke="#9DC5DB" stroke-width="1.6" stroke-linecap="butt"/>
<line x1="651.00" y1="337.00" x2="651.00" y2="344.80" stroke="#9DC5DB" stroke-width="1.6" stroke-linecap="butt"/>
<line x1="647.60" y1="337.00" x2="654.40" y2="337.00" stroke="#9DC5DB" stroke-width="1.6" stroke-linecap="butt"/>
<line x1="647.60" y1="344.80" x2="654.40" y2="344.80" stroke="#9DC5DB" stroke-width="1.6" stroke-linecap="butt"/>
<line x1="677.60" y1="333.60" x2="677.60" y2="342.40" stroke="#9DC5DB" stroke-width="1.6" stroke-linecap="butt"/>
<line x1="674.20" y1="333.60" x2="681.00" y2="333.60" stroke="#9DC5DB" stroke-width="1.6" stroke-linecap="butt"/>
<line x1="674.20" y1="342.40" x2="681.00" y2="342.40" stroke="#9DC5DB" stroke-width="1.6" stroke-linecap="butt"/>
<path d="M411.60,484.30 C416.03,479.45 429.33,464.75 438.20,455.20 C447.07,445.65 455.93,435.48 464.80,427.00 C473.67,418.52 482.53,411.28 491.40,404.30 C500.27,397.32 509.13,390.45 518.00,385.10 C526.87,379.75 535.73,376.47 544.60,372.20 C553.47,367.93 562.33,362.95 571.20,359.50 C580.07,356.05 588.93,353.85 597.80,351.50 C606.67,349.15 615.53,347.17 624.40,345.40 C633.27,343.63 642.13,342.13 651.00,340.90 C659.87,339.67 673.17,338.48 677.60,338.00" fill="none" stroke="#9DC5DB" stroke-width="1.6"/>
<rect x="406.95" y="479.10" width="9.3" height="10.4" rx="0.8" fill="#9DC5DB"/>
<rect x="433.55" y="450.00" width="9.3" height="10.4" rx="0.8" fill="#9DC5DB"/>
<rect x="460.15" y="421.80" width="9.3" height="10.4" rx="0.8" fill="#9DC5DB"/>
<rect x="486.75" y="399.10" width="9.3" height="10.4" rx="0.8" fill="#9DC5DB"/>
<rect x="513.35" y="379.90" width="9.3" height="10.4" rx="0.8" fill="#9DC5DB"/>
<rect x="539.95" y="367.00" width="9.3" height="10.4" rx="0.8" fill="#9DC5DB"/>
<rect x="566.55" y="354.30" width="9.3" height="10.4" rx="0.8" fill="#9DC5DB"/>
<rect x="593.15" y="346.30" width="9.3" height="10.4" rx="0.8" fill="#9DC5DB"/>
<rect x="619.75" y="340.20" width="9.3" height="10.4" rx="0.8" fill="#9DC5DB"/>
<rect x="646.35" y="335.70" width="9.3" height="10.4" rx="0.8" fill="#9DC5DB"/>
<rect x="672.95" y="332.80" width="9.3" height="10.4" rx="0.8" fill="#9DC5DB"/>
<line x1="411.60" y1="480.70" x2="411.60" y2="492.70" stroke="#D65A2C" stroke-width="1.7" stroke-linecap="butt"/>
<line x1="408.20" y1="480.70" x2="415.00" y2="480.70" stroke="#D65A2C" stroke-width="1.7" stroke-linecap="butt"/>
<line x1="408.20" y1="492.70" x2="415.00" y2="492.70" stroke="#D65A2C" stroke-width="1.7" stroke-linecap="butt"/>
<line x1="438.20" y1="448.60" x2="438.20" y2="469.00" stroke="#D65A2C" stroke-width="1.7" stroke-linecap="butt"/>
<line x1="434.80" y1="448.60" x2="441.60" y2="448.60" stroke="#D65A2C" stroke-width="1.7" stroke-linecap="butt"/>
<line x1="434.80" y1="469.00" x2="441.60" y2="469.00" stroke="#D65A2C" stroke-width="1.7" stroke-linecap="butt"/>
<line x1="464.80" y1="415.50" x2="464.80" y2="444.10" stroke="#D65A2C" stroke-width="1.7" stroke-linecap="butt"/>
<line x1="461.40" y1="415.50" x2="468.20" y2="415.50" stroke="#D65A2C" stroke-width="1.7" stroke-linecap="butt"/>
<line x1="461.40" y1="444.10" x2="468.20" y2="444.10" stroke="#D65A2C" stroke-width="1.7" stroke-linecap="butt"/>
<line x1="491.40" y1="394.10" x2="491.40" y2="422.70" stroke="#D65A2C" stroke-width="1.7" stroke-linecap="butt"/>
<line x1="488.00" y1="394.10" x2="494.80" y2="394.10" stroke="#D65A2C" stroke-width="1.7" stroke-linecap="butt"/>
<line x1="488.00" y1="422.70" x2="494.80" y2="422.70" stroke="#D65A2C" stroke-width="1.7" stroke-linecap="butt"/>
<line x1="518.00" y1="377.30" x2="518.00" y2="404.50" stroke="#D65A2C" stroke-width="1.7" stroke-linecap="butt"/>
<line x1="514.60" y1="377.30" x2="521.40" y2="377.30" stroke="#D65A2C" stroke-width="1.7" stroke-linecap="butt"/>
<line x1="514.60" y1="404.50" x2="521.40" y2="404.50" stroke="#D65A2C" stroke-width="1.7" stroke-linecap="butt"/>
<line x1="544.60" y1="364.80" x2="544.60" y2="390.60" stroke="#D65A2C" stroke-width="1.7" stroke-linecap="butt"/>
<line x1="541.20" y1="364.80" x2="548.00" y2="364.80" stroke="#D65A2C" stroke-width="1.7" stroke-linecap="butt"/>
<line x1="541.20" y1="390.60" x2="548.00" y2="390.60" stroke="#D65A2C" stroke-width="1.7" stroke-linecap="butt"/>
<line x1="571.20" y1="355.40" x2="571.20" y2="376.40" stroke="#D65A2C" stroke-width="1.7" stroke-linecap="butt"/>
<line x1="567.80" y1="355.40" x2="574.60" y2="355.40" stroke="#D65A2C" stroke-width="1.7" stroke-linecap="butt"/>
<line x1="567.80" y1="376.40" x2="574.60" y2="376.40" stroke="#D65A2C" stroke-width="1.7" stroke-linecap="butt"/>
<line x1="597.80" y1="348.30" x2="597.80" y2="366.30" stroke="#D65A2C" stroke-width="1.7" stroke-linecap="butt"/>
<line x1="594.40" y1="348.30" x2="601.20" y2="348.30" stroke="#D65A2C" stroke-width="1.7" stroke-linecap="butt"/>
<line x1="594.40" y1="366.30" x2="601.20" y2="366.30" stroke="#D65A2C" stroke-width="1.7" stroke-linecap="butt"/>
<line x1="624.40" y1="342.20" x2="624.40" y2="356.60" stroke="#D65A2C" stroke-width="1.7" stroke-linecap="butt"/>
<line x1="621.00" y1="342.20" x2="627.80" y2="342.20" stroke="#D65A2C" stroke-width="1.7" stroke-linecap="butt"/>
<line x1="621.00" y1="356.60" x2="627.80" y2="356.60" stroke="#D65A2C" stroke-width="1.7" stroke-linecap="butt"/>
<line x1="651.00" y1="338.70" x2="651.00" y2="351.90" stroke="#D65A2C" stroke-width="1.7" stroke-linecap="butt"/>
<line x1="647.60" y1="338.70" x2="654.40" y2="338.70" stroke="#D65A2C" stroke-width="1.7" stroke-linecap="butt"/>
<line x1="647.60" y1="351.90" x2="654.40" y2="351.90" stroke="#D65A2C" stroke-width="1.7" stroke-linecap="butt"/>
<line x1="677.60" y1="335.80" x2="677.60" y2="347.20" stroke="#D65A2C" stroke-width="1.7" stroke-linecap="butt"/>
<line x1="674.20" y1="335.80" x2="681.00" y2="335.80" stroke="#D65A2C" stroke-width="1.7" stroke-linecap="butt"/>
<line x1="674.20" y1="347.20" x2="681.00" y2="347.20" stroke="#D65A2C" stroke-width="1.7" stroke-linecap="butt"/>
<path d="M411.60,486.70 C416.03,482.05 429.33,468.28 438.20,458.80 C447.07,449.32 455.93,438.20 464.80,429.80 C473.67,421.40 482.53,414.88 491.40,408.40 C500.27,401.92 509.13,396.02 518.00,390.90 C526.87,385.78 535.73,381.87 544.60,377.70 C553.47,373.53 562.33,369.30 571.20,365.90 C580.07,362.50 588.93,360.05 597.80,357.30 C606.67,354.55 615.53,351.40 624.40,349.40 C633.27,347.40 642.13,346.62 651.00,345.30 C659.87,343.98 673.17,342.13 677.60,341.50" fill="none" stroke="#D65A2C" stroke-width="2"/>
<ellipse cx="411.60" cy="486.70" rx="4.7" ry="5.2" fill="#D65A2C"/>
<ellipse cx="438.20" cy="458.80" rx="4.7" ry="5.2" fill="#D65A2C"/>
<ellipse cx="464.80" cy="429.80" rx="4.7" ry="5.2" fill="#D65A2C"/>
<ellipse cx="491.40" cy="408.40" rx="4.7" ry="5.2" fill="#D65A2C"/>
<ellipse cx="518.00" cy="390.90" rx="4.7" ry="5.2" fill="#D65A2C"/>
<ellipse cx="544.60" cy="377.70" rx="4.7" ry="5.2" fill="#D65A2C"/>
<ellipse cx="571.20" cy="365.90" rx="4.7" ry="5.2" fill="#D65A2C"/>
<ellipse cx="597.80" cy="357.30" rx="4.7" ry="5.2" fill="#D65A2C"/>
<ellipse cx="624.40" cy="349.40" rx="4.7" ry="5.2" fill="#D65A2C"/>
<ellipse cx="651.00" cy="345.30" rx="4.7" ry="5.2" fill="#D65A2C"/>
<ellipse cx="677.60" cy="341.50" rx="4.7" ry="5.2" fill="#D65A2C"/>
<line x1="388.00" y1="299.40" x2="408.40" y2="299.40" stroke="#D65A2C" stroke-width="1.8" stroke-linecap="butt"/>
<ellipse cx="398.3" cy="299.1" rx="4.6" ry="5.2" fill="#D65A2C"/>
<line x1="388.00" y1="330.10" x2="408.40" y2="330.10" stroke="#9DC5DB" stroke-width="1.8" stroke-linecap="butt"/>
<rect x="393.3" y="325.3" width="9.3" height="10.4" rx="0.8" fill="#9DC5DB"/>
<text x="0.00" y="0.00" font-size="13.9" text-anchor="start" fill="#000" font-weight="normal" transform="translate(420.50,305.50) scale(1,1.15)" >PTX@HSA-CHP NPs</text>
<text x="0.00" y="0.00" font-size="13.9" text-anchor="start" fill="#000" font-weight="normal" transform="translate(420.50,336.40) scale(1,1.15)" >PTX@HSA NPs</text>
</svg></body></html>
